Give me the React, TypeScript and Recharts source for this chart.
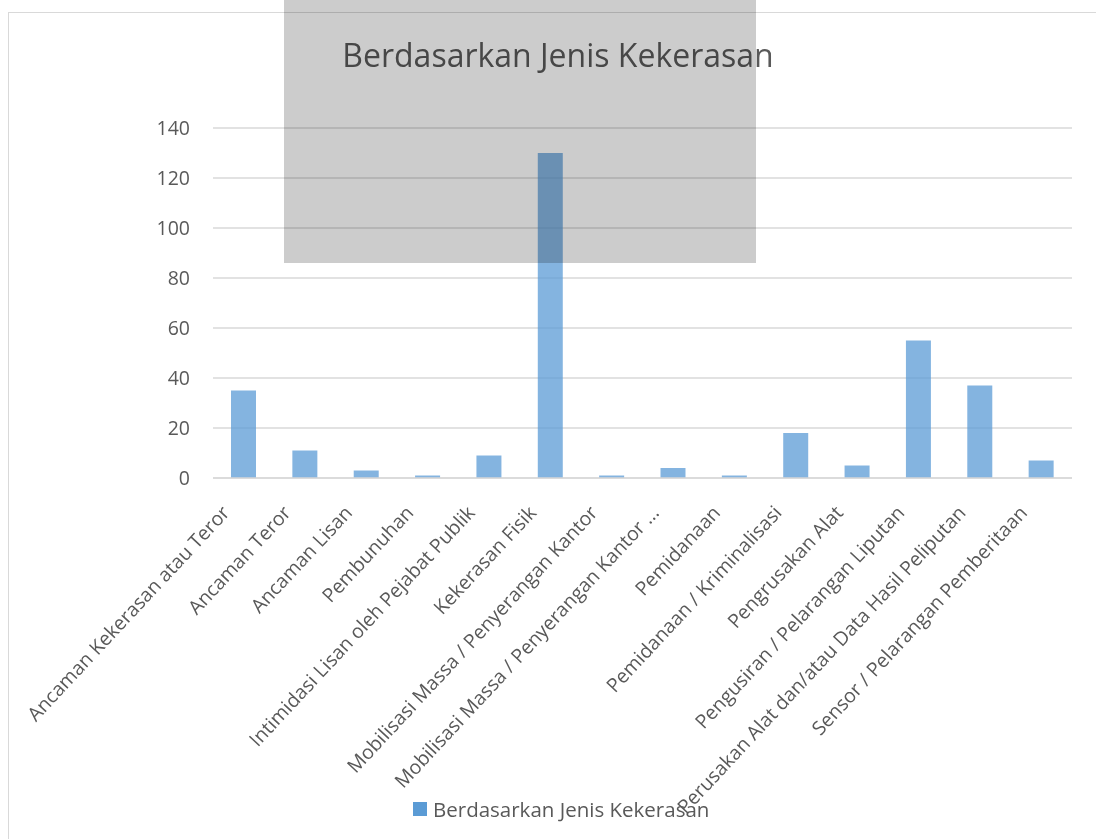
import React from "react";
import { BarChart, Bar, XAxis, YAxis, CartesianGrid, Legend } from "recharts";

const categories = [
  "Ancaman Kekerasan atau Teror",
  "Ancaman Teror",
  "Ancaman Lisan",
  "Pembunuhan",
  "Intimidasi Lisan oleh Pejabat Publik",
  "Kekerasan Fisik",
  "Mobilisasi Massa / Penyerangan Kantor",
  "Mobilisasi Massa / Penyerangan Kantor ...",
  "Pemidanaan",
  "Pemidanaan / Kriminalisasi",
  "Pengrusakan Alat",
  "Pengusiran / Pelarangan Liputan",
  "Perusakan Alat dan/atau Data Hasil Peliputan",
  "Sensor / Pelarangan Pemberitaan",
];

const counts = [35, 11, 3, 1, 9, 130, 1, 4, 1, 18, 5, 55, 37, 7];

const yTicks = [0, 20, 40, 60, 80, 100, 120, 140];

const seriesName = "Berdasarkan Jenis Kekerasan";

const data = categories.map((name, i) => ({ name, value: counts[i] }));

const FONT = "'Open Sans', 'Noto Sans', sans-serif";
const TEXT = "#595959";
const BAR = "#5B9BD5";

const CategoryTick = (props: any) => {
  const { x, y, payload } = props;
  return (
    <g transform={`translate(${x - 18},${y + 23}) rotate(-47)`}>
      <text
        x={0}
        y={0}
        dy="0.35em"
        textAnchor="end"
        fill={TEXT}
        fontSize={19.5}
        fontFamily={FONT}
      >
        {payload.value}
      </text>
    </g>
  );
};

const LegendBox = () => (
  <div
    style={{
      display: "flex",
      alignItems: "center",
      height: 30,
      fontFamily: FONT,
      fontSize: 20.5,
      color: TEXT,
      whiteSpace: "nowrap",
    }}
  >
    <span
      style={{
        display: "inline-block",
        width: 14,
        height: 14,
        background: BAR,
        marginRight: 6,
      }}
    />
    {seriesName}
  </div>
);

export default function App() {
  return (
    <div
      style={{
        position: "relative",
        width: 1096,
        height: 839,
        overflow: "hidden",
        background: "#fff",
        fontFamily: FONT,
      }}
    >
      <style>{"body{margin:0}"}</style>
      {/* chart area border */}
      <div
        style={{
          position: "absolute",
          left: 8,
          top: 12,
          width: 1200,
          height: 900,
          border: "1px solid #D9D9D9",
        }}
      />
      <div
        style={{
          position: "absolute",
          left: 0,
          top: 33,
          width: 1116,
          textAlign: "center",
          fontSize: 32,
          color: TEXT,
          zIndex: 2,
        }}
      >
        {seriesName}
      </div>
      <div style={{ position: "absolute", left: 0, top: 0 }}>
        <BarChart
          width={1096}
          height={839}
          data={data}
          margin={{ top: 128, right: 24, left: 0, bottom: 0 }}
          barSize={25}
        >
          <CartesianGrid vertical={false} stroke="#D9D9D9" strokeWidth={1.5} />
          <XAxis
            dataKey="name"
            interval={0}
            height={331}
            tick={<CategoryTick />}
            tickLine={false}
            axisLine={{ stroke: "#D9D9D9", strokeWidth: 1.5 }}
          />
          <YAxis
            width={213}
            domain={[0, 140]}
            ticks={yTicks}
            tickLine={false}
            axisLine={false}
            tickMargin={17}
            tick={{ fill: TEXT, fontSize: 19.5, fontFamily: FONT }}
          />
          <Legend
            content={<LegendBox />}
            wrapperStyle={{ left: 413, top: 794, width: "auto" }}
          />
          <Bar
            dataKey="value"
            name={seriesName}
            fill={BAR}
            fillOpacity={0.75}
            isAnimationActive={false}
          />
        </BarChart>
      </div>
      {/* grey block from the scanned page */}
      <div
        style={{
          position: "absolute",
          left: 284,
          top: 0,
          width: 472,
          height: 263,
          background: "#CCCCCC",
          mixBlendMode: "multiply",
          pointerEvents: "none",
          zIndex: 3,
        }}
      />
    </div>
  );
}
